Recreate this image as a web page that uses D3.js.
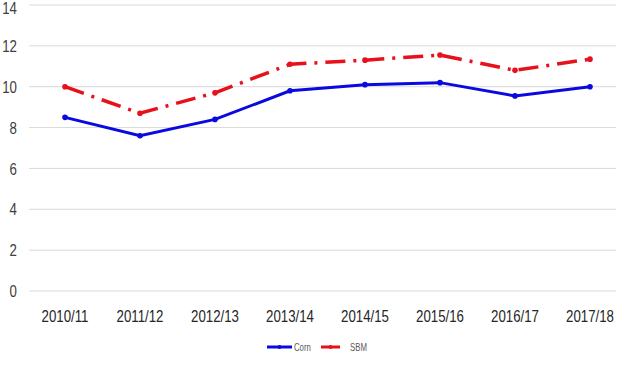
<!DOCTYPE html>
<html><head><meta charset="utf-8">
<script src="https://cdn.jsdelivr.net/npm/d3@7"></script>
<style>body{margin:0;background:#fff;} svg{display:block;}</style>
</head><body>
<svg id="c" width="627" height="368"></svg>
<script>
const categories = ["2010/11","2011/12","2012/13","2013/14","2014/15","2015/16","2016/17","2017/18"];
const corn = [8.5, 7.6, 8.4, 9.8, 10.1, 10.2, 9.55, 10.0];
const sbm = [10.0, 8.7, 9.7, 11.1, 11.3, 11.55, 10.8, 11.35];
const yTicks = [0,2,4,6,8,10,12,14];

const font = "'Liberation Sans',Arial,sans-serif";
const sx = 0.78;
const svg = d3.select("#c");
const x = d3.scaleBand().domain(categories).range([27.5, 627.5]);
const y = d3.scaleLinear().domain([0,14]).range([291, 5]);
const gl = 29, gr = 616;

svg.append("g").selectAll("line").data(yTicks).join("line")
  .attr("x1", gl).attr("x2", gr)
  .attr("y1", d=>y(d)).attr("y2", d=>y(d))
  .attr("stroke", "#d9d9d9").attr("stroke-width", 1);

svg.append("g").selectAll("g").data(yTicks).join("g")
  .attr("transform", d=>`translate(17,${Math.max(y(d), 8)}) scale(${sx},1)`)
  .append("text").attr("dy","0.36em")
  .attr("text-anchor","end").attr("font-family",font).attr("font-size",17)
  .attr("fill","#404040").text(d=>d);

const cx = d=>x(d)+x.bandwidth()/2;

svg.append("g").selectAll("g").data(categories).join("g")
  .attr("transform", d=>`translate(${cx(d)},316) scale(${sx},1)`)
  .append("text").attr("dy","0.36em")
  .attr("text-anchor","middle").attr("font-family",font).attr("font-size",17)
  .attr("fill","#262626").text(d=>d);

const line = d3.line().x((d,i)=>cx(categories[i])).y(d=>y(d));

svg.append("path").datum(sbm).attr("d", line).attr("fill","none")
  .attr("stroke","#e8101a").attr("stroke-width",3.5)
  .attr("stroke-dasharray","20,8,3,8");
svg.append("g").selectAll("circle").data(sbm).join("circle")
  .attr("cx",(d,i)=>cx(categories[i])).attr("cy",d=>y(d)).attr("r",2.8).attr("fill","#e8101a");

svg.append("path").datum(corn).attr("d", line).attr("fill","none")
  .attr("stroke","#0a0ae0").attr("stroke-width",3);
svg.append("g").selectAll("circle").data(corn).join("circle")
  .attr("cx",(d,i)=>cx(categories[i])).attr("cy",d=>y(d)).attr("r",2.8).attr("fill","#0a0ae0");

// legend
const ly = 347;
const lg = svg.append("g");
lg.append("line").attr("x1",267).attr("x2",292).attr("y1",ly).attr("y2",ly).attr("stroke","#0a0ae0").attr("stroke-width",3);
lg.append("circle").attr("cx",279.5).attr("cy",ly).attr("r",2).attr("fill","#0a0ae0");
lg.append("g").attr("transform",`translate(294,${ly}) scale(${sx},1)`)
  .append("text").attr("dy","0.36em").attr("font-family",font).attr("font-size",10).attr("fill","#595959").text("Corn");
lg.append("line").attr("x1",321).attr("x2",340).attr("y1",ly).attr("y2",ly).attr("stroke","#e8101a").attr("stroke-width",3);
lg.append("circle").attr("cx",330.5).attr("cy",ly).attr("r",2).attr("fill","#e8101a");
lg.append("g").attr("transform",`translate(350,${ly}) scale(${sx},1)`)
  .append("text").attr("dy","0.36em").attr("font-family",font).attr("font-size",10).attr("fill","#595959").text("SBM");
</script>
</body></html>
